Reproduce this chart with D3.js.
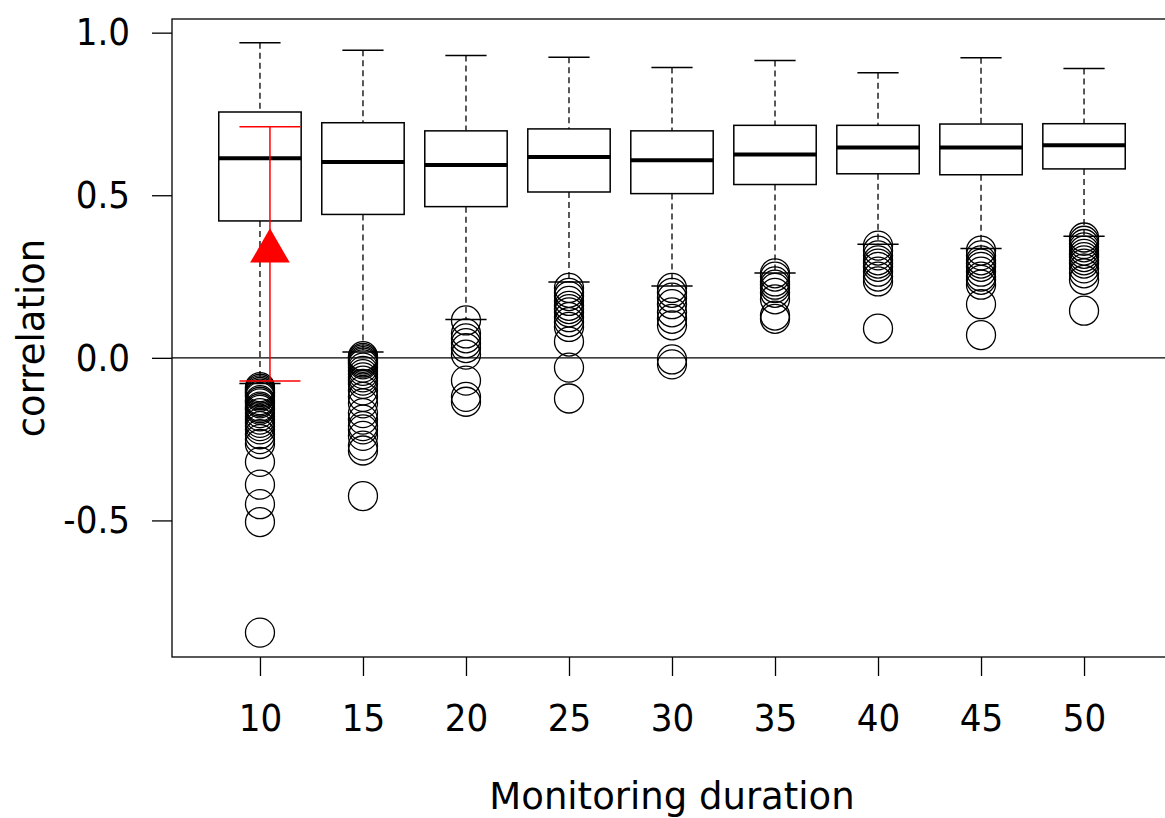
<!DOCTYPE html>
<html lang="en">
<head>
    <meta charset="UTF-8">
    <title>Correlation by monitoring duration</title>
    <script src="https://d3js.org/d3.v7.min.js"></script>
    <style>
        html, body { margin: 0; padding: 0; background: #fff; }
        svg { display: block; }
    </style>
</head>
<body>
    <div id="chart"></div>

    <script>
        // Box statistics per monitoring duration
        const durations = [10, 15, 20, 25, 30, 35, 40, 45, 50];
        const upperWhisker = [0.969, 0.946, 0.930, 0.924, 0.893, 0.914, 0.877, 0.923, 0.890];
        const q3 = [0.756, 0.723, 0.698, 0.704, 0.698, 0.715, 0.715, 0.719, 0.720];
        const medians = [0.614, 0.602, 0.593, 0.618, 0.608, 0.625, 0.647, 0.647, 0.654];
        const q1 = [0.421, 0.441, 0.465, 0.510, 0.505, 0.533, 0.566, 0.563, 0.581];
        const lowerWhisker = [-0.079, 0.018, 0.118, 0.233, 0.221, 0.261, 0.349, 0.336, 0.374];

        // Outliers per duration
        const outliers10 = [-0.09, -0.095, -0.10, -0.105, -0.11, -0.115, -0.12, -0.13, -0.135, -0.14,
            -0.15, -0.155, -0.16, -0.17, -0.18, -0.19, -0.20, -0.21, -0.22, -0.235, -0.25, -0.265,
            -0.32, -0.39, -0.45, -0.505, -0.845];
        const outliers15 = [0.005, 0.0, -0.005, -0.01, -0.015, -0.02, -0.03, -0.04, -0.05, -0.06,
            -0.07, -0.08, -0.10, -0.12, -0.14, -0.17, -0.19, -0.21, -0.22, -0.24, -0.27, -0.285, -0.425];
        const outliers20 = [0.115, 0.075, 0.06, 0.045, 0.03, 0.01, -0.07, -0.12, -0.135];
        const outliers25 = [0.215, 0.2, 0.19, 0.175, 0.16, 0.15, 0.14, 0.125, 0.11, 0.095, 0.05, -0.03, -0.125];
        const outliers30 = [0.215, 0.2, 0.185, 0.165, 0.14, 0.12, 0.1, -0.005, -0.02];
        const outliers35 = [0.26, 0.25, 0.235, 0.225, 0.215, 0.2, 0.18, 0.13, 0.12];
        const outliers40 = [0.345, 0.33, 0.315, 0.30, 0.29, 0.28, 0.265, 0.25, 0.235, 0.09];
        const outliers45 = [0.33, 0.315, 0.3, 0.29, 0.28, 0.265, 0.25, 0.24, 0.225, 0.165, 0.07];
        const outliers50 = [0.37, 0.36, 0.35, 0.34, 0.33, 0.32, 0.31, 0.3, 0.29, 0.275, 0.26, 0.24, 0.145];
        const outlierSets = [outliers10, outliers15, outliers20, outliers25, outliers30,
            outliers35, outliers40, outliers45, outliers50];

        // Red reference interval (at duration 10)
        const refDuration = 10;
        const refLow = -0.071;
        const refMean = 0.328;
        const refHigh = 0.711;

        const yTicks = [-0.5, 0.0, 0.5, 1.0];

        const W = 1165, H = 818;
        const margin = { top: 19, left: 172, bottom: 161 };
        const plotW = 1000;
        const plotH = H - margin.top - margin.bottom;

        const svg = d3.select("#chart").append("svg")
            .attr("width", W)
            .attr("height", H);

        const x = d3.scalePoint()
            .domain(durations)
            .range([0, plotW])
            .padding(0.854);

        const y = d3.scaleLinear()
            .domain([-0.92, 1.042])
            .range([plotH, 0]);

        const step = x.step();
        const boxW = step * 0.8;
        const capW = boxW / 2;

        const g = svg.append("g")
            .attr("transform", `translate(${margin.left},${margin.top})`);

        const stats = durations.map((d, i) => ({
            d, hi: upperWhisker[i], q3: q3[i], med: medians[i], q1: q1[i], lo: lowerWhisker[i],
            out: outlierSets[i]
        }));

        // Axes
        const xAxis = g.append("g")
            .attr("transform", `translate(0,${plotH})`)
            .call(d3.axisBottom(x).tickSize(19).tickPadding(28).tickSizeOuter(0));
        xAxis.select(".domain").remove();

        const yAxis = g.append("g")
            .call(d3.axisLeft(y).tickValues(yTicks).tickFormat(d => d.toFixed(1))
                .tickSize(20).tickPadding(22).tickSizeOuter(0));
        yAxis.select(".domain").remove();

        svg.selectAll(".tick line").attr("stroke", "#000").attr("stroke-width", 1.3);
        svg.selectAll(".tick text")
            .attr("fill", "#000")
            .style("font-family", "'DejaVu Sans Condensed', 'DejaVu Sans', sans-serif")
            .style("font-size", "38px");

        // Whiskers (dashed)
        const box = g.selectAll(".box")
            .data(stats)
            .enter()
            .append("g")
            .attr("class", "box")
            .attr("transform", d => `translate(${x(d.d)},0)`);

        box.append("line")
            .attr("y1", d => y(d.hi)).attr("y2", d => y(d.q3))
            .attr("stroke", "#000").attr("stroke-width", 1.3).attr("stroke-dasharray", "6,4");
        box.append("line")
            .attr("y1", d => y(d.q1)).attr("y2", d => y(d.lo))
            .attr("stroke", "#000").attr("stroke-width", 1.3).attr("stroke-dasharray", "6,4");

        // Whisker caps
        box.append("line")
            .attr("x1", -capW / 2).attr("x2", capW / 2)
            .attr("y1", d => y(d.hi)).attr("y2", d => y(d.hi))
            .attr("stroke", "#000").attr("stroke-width", 1.5);
        box.append("line")
            .attr("x1", -capW / 2).attr("x2", capW / 2)
            .attr("y1", d => y(d.lo)).attr("y2", d => y(d.lo))
            .attr("stroke", "#000").attr("stroke-width", 1.5);

        // Boxes
        box.append("rect")
            .attr("x", -boxW / 2)
            .attr("width", boxW)
            .attr("y", d => y(d.q3))
            .attr("height", d => y(d.q1) - y(d.q3))
            .attr("fill", "#fff")
            .attr("stroke", "#000")
            .attr("stroke-width", 1.5);

        // Medians
        box.append("line")
            .attr("x1", -boxW / 2).attr("x2", boxW / 2)
            .attr("y1", d => y(d.med)).attr("y2", d => y(d.med))
            .attr("stroke", "#000").attr("stroke-width", 4);

        // Outliers
        box.selectAll("circle")
            .data(d => d.out)
            .enter()
            .append("circle")
            .attr("cx", 0)
            .attr("cy", v => y(v))
            .attr("r", 14.5)
            .attr("fill", "none")
            .attr("stroke", "#000")
            .attr("stroke-width", 1.3);

        // Zero reference line
        g.append("line")
            .attr("x1", 0).attr("x2", plotW)
            .attr("y1", y(0)).attr("y2", y(0))
            .attr("stroke", "#000").attr("stroke-width", 1.3);

        // Frame
        g.append("rect")
            .attr("width", plotW)
            .attr("height", plotH)
            .attr("fill", "none")
            .attr("stroke", "#000")
            .attr("stroke-width", 1.3);

        // Red interval with triangle
        const rx = x(refDuration) + step * 0.097;
        const red = g.append("g").attr("transform", `translate(${rx},0)`);
        red.append("line")
            .attr("y1", y(refHigh)).attr("y2", y(refLow))
            .attr("stroke", "red").attr("stroke-width", 1.5);
        [refHigh, refLow].forEach(v => {
            red.append("line")
                .attr("x1", -30.5).attr("x2", 30.5)
                .attr("y1", y(v)).attr("y2", y(v))
                .attr("stroke", "red").attr("stroke-width", 1.5);
        });
        red.append("path")
            .attr("d", d3.symbol(d3.symbolTriangle, 680))
            .attr("transform", `translate(0,${y(refMean)})`)
            .attr("fill", "red");

        // Axis titles
        svg.append("text")
            .attr("x", margin.left + plotW / 2)
            .attr("y", 809)
            .attr("text-anchor", "middle")
            .style("font-family", "'DejaVu Sans', sans-serif")
            .style("font-size", "37px")
            .text("Monitoring duration");

        svg.append("text")
            .attr("transform", `translate(43.5,${margin.top + plotH / 2}) rotate(-90)`)
            .attr("text-anchor", "middle")
            .style("font-family", "'DejaVu Sans', sans-serif")
            .style("font-size", "37px")
            .text("correlation");
    </script>
</body>
</html>
